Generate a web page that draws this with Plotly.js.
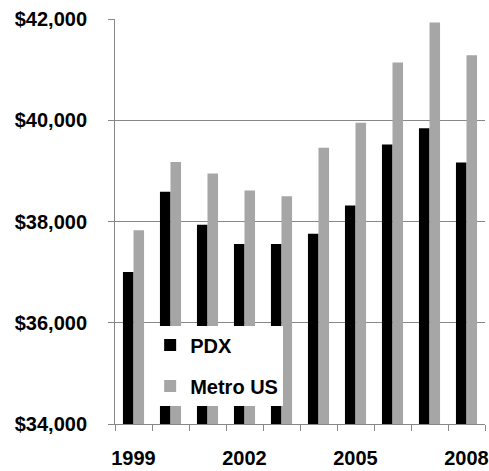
<!DOCTYPE html>
<html>
<head>
<meta charset="utf-8">
<script src="https://cdn.plot.ly/plotly-3.0.1.min.js"></script>
<style>html,body{margin:0;padding:0;background:#fff;}#chart{width:489px;height:471px;}</style>
</head>
<body>
<div id="chart"></div>
<script>
const years = ['1999','2000','2001','2002','2003','2004','2005','2006','2007','2008'];
const yearLabels = ['1999','','','2002','','','2005','','','2008'];
const pdx = [37000, 38590, 37935, 37555, 37555, 37757, 38316, 39520, 39844, 39165];
const metroUS = [37825, 39173, 38948, 38612, 38501, 39455, 39949, 41139, 41929, 41285];
const yTicks = [34000, 36000, 38000, 40000, 42000];
const yLabels = ['$34,000', '$36,000', '$38,000', '$40,000', '$42,000'];

const FONT = 'Liberation Sans, Arial, sans-serif';
const GRID = '#878787';
const FS = 20;

const traces = [
  {type: 'bar', name: 'PDX', x: years, y: pdx, marker: {color: '#000000'}, legendgroup: 'a'},
  {type: 'bar', name: 'Metro US', x: years, y: metroUS, marker: {color: '#A6A6A6'}, legendgroup: 'b'}
];

const layout = {
  width: 489, height: 471,
  margin: {l: 115, r: 4, t: 19, b: 47, pad: 0},
  paper_bgcolor: '#ffffff', plot_bgcolor: '#ffffff',
  font: {family: FONT, size: FS, color: '#000000', weight: 'bold'},
  barmode: 'group', bargap: 0.43, bargroupgap: 0,
  showlegend: true,
  legend: {
    x: 0.095, y: 0.243, xanchor: 'left', yanchor: 'top',
    bgcolor: '#ffffff', borderwidth: 0,
    traceorder: 'grouped', tracegroupgap: 12,
    font: {family: FONT, size: FS, color: '#000000', weight: 'bold'}
  },
  xaxis: {
    type: 'category', tickmode: 'array', tickvals: years, ticktext: yearLabels,
    tickangle: 0,
    tickson: 'boundaries', ticks: 'outside', ticklen: 6, tickwidth: 1, tickcolor: GRID,
    showline: true, linecolor: GRID, linewidth: 1, showgrid: false, zeroline: false,
    ticklabelstandoff: 16,
    tickfont: {family: FONT, size: FS, color: '#000000', weight: 'bold'}
  },
  yaxis: {
    range: [34000, 42000], tickmode: 'array', tickvals: yTicks, ticktext: yLabels,
    ticks: 'outside', ticklen: 6, tickwidth: 1, tickcolor: GRID,
    showline: true, linecolor: GRID, linewidth: 1,
    showgrid: true, gridcolor: GRID, gridwidth: 1, zeroline: false,
    ticklabelstandoff: 17,
    tickfont: {family: FONT, size: FS, color: '#000000', weight: 'bold'}
  }
};

Plotly.newPlot('chart', traces, layout, {displayModeBar: false, staticPlot: true});
</script>
</body>
</html>
